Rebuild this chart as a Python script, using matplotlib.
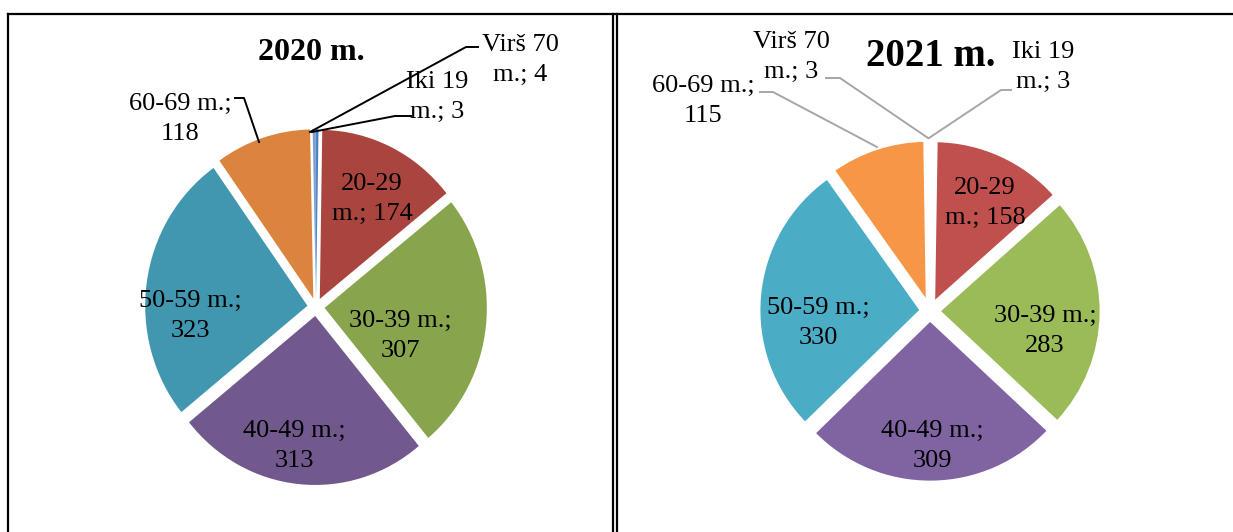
import matplotlib
matplotlib.use("Agg")
import matplotlib.pyplot as plt
from matplotlib.lines import Line2D
from matplotlib.transforms import Affine2D

# Duomenys
kategorijos = ["Iki 19 m.", "20-29 m.", "30-39 m.", "40-49 m.", "50-59 m.", "60-69 m.", "Virš 70 m."]
reiksmes_2020 = [3, 174, 307, 313, 323, 118, 4]
reiksmes_2021 = [3, 158, 283, 309, 330, 115, 3]
pavadinimai = ["2020 m.", "2021 m."]

spalvos_2020 = ["#4A7EBB", "#A9443F", "#88A44C", "#71598E", "#4297B0", "#DB843D", "#7DA0D4"]
spalvos_2021 = ["#4F81BD", "#C0504D", "#9BBB59", "#8064A2", "#4BACC6", "#F79646", "#2C4D75"]

W, H = 1233, 532
plt.rcParams['font.family'] = ['Liberation Serif', 'DejaVu Serif']

fig = plt.figure(figsize=(W / 100, H / 100), dpi=100)
ax = fig.add_axes([0, 0, 1, 1])
ax.set_xlim(0, W)
ax.set_ylim(0, H)


def Y(y):
    return H - y


# Lentelės rėmeliai
for xs, ys in [([8, W], [14, 14]), ([8, 8], [14, H]), ([613, 613], [14, H]), ([617, 617], [14, H])]:
    fig.add_artist(Line2D([x / W for x in xs], [Y(y) / H for y in ys], color='black', lw=1.6))


def etikete(kat, v, lauzti_pries_m):
    if lauzti_pries_m:
        pirma, antra = kat.rsplit(" ", 1)
        return f"{pirma}\n{antra}; {v}"
    return f"{kat};\n{v}"


def piesti(reiksmes, spalvos, cx, cy, r, sx, pavad, pav_xy, pav_dydis, etik_xy, lauzti,
           linijos, lin_spalva, krastas, krasto_storis):
    # explode matplotlib'e - absoliutus poslinkis (pikseliais)
    wedges, _ = ax.pie(reiksmes, colors=spalvos, center=(cx, Y(cy)), radius=r, startangle=90,
                       counterclock=False, explode=[9] * len(reiksmes),
                       wedgeprops=dict(edgecolor=krastas, linewidth=krasto_storis),
                       frame=True)
    # šiek tiek suspausta horizontaliai (kaip originale)
    tr = Affine2D().translate(-cx, -Y(cy)).scale(sx, 1).translate(cx, Y(cy)) + ax.transData
    for w in wedges:
        w.set_transform(tr)
    ax.text(pav_xy[0], Y(pav_xy[1]), pavad, ha='center', va='center',
            fontsize=pav_dydis, fontweight='bold')
    for kat, v, xy, lz in zip(kategorijos, reiksmes, etik_xy, lauzti):
        ax.text(xy[0], Y(xy[1]), etikete(kat, v, lz), ha='center', va='center',
                fontsize=19, linespacing=1.42)
    for taskai in linijos:
        ax.plot([p[0] for p in taskai], [Y(p[1]) for p in taskai], color=lin_spalva, lw=1.4)


# 2020 m.
piesti(reiksmes_2020, spalvos_2020, 316, 307, 169, 0.96, pavadinimai[0], (311, 52), 23,
       [(437, 97), (372, 199), (400, 336), (294, 446), (190, 316), (180, 119), (520, 60)],
       [True, True, False, False, False, False, True],
       [[(411, 116), (395, 116), (312, 132)],
        [(478, 47), (466, 47), (310, 132)],
        [(235, 98), (244, 98), (259, 142)]],
       'black', 'none', 0)

# 2021 m.
piesti(reiksmes_2021, spalvos_2021, 930, 311, 162, 1.0, pavadinimai[1], (931, 57), 28,
       [(1043, 67), (985, 203), (1045, 331), (932, 446), (818, 323), (703, 101), (791, 57)],
       [True, True, False, False, False, False, True],
       [[(1011, 90), (1001, 90), (929, 138)],
        [(826, 78), (840, 78), (928, 138)],
        [(760, 92), (773, 92), (877, 147)]],
       '#A6A6A6', 'white', 2.0)

ax.set_xlim(0, W)
ax.set_ylim(0, H)
ax.set_aspect('auto')
ax.axis('off')

fig.savefig("out.png", dpi=100)
